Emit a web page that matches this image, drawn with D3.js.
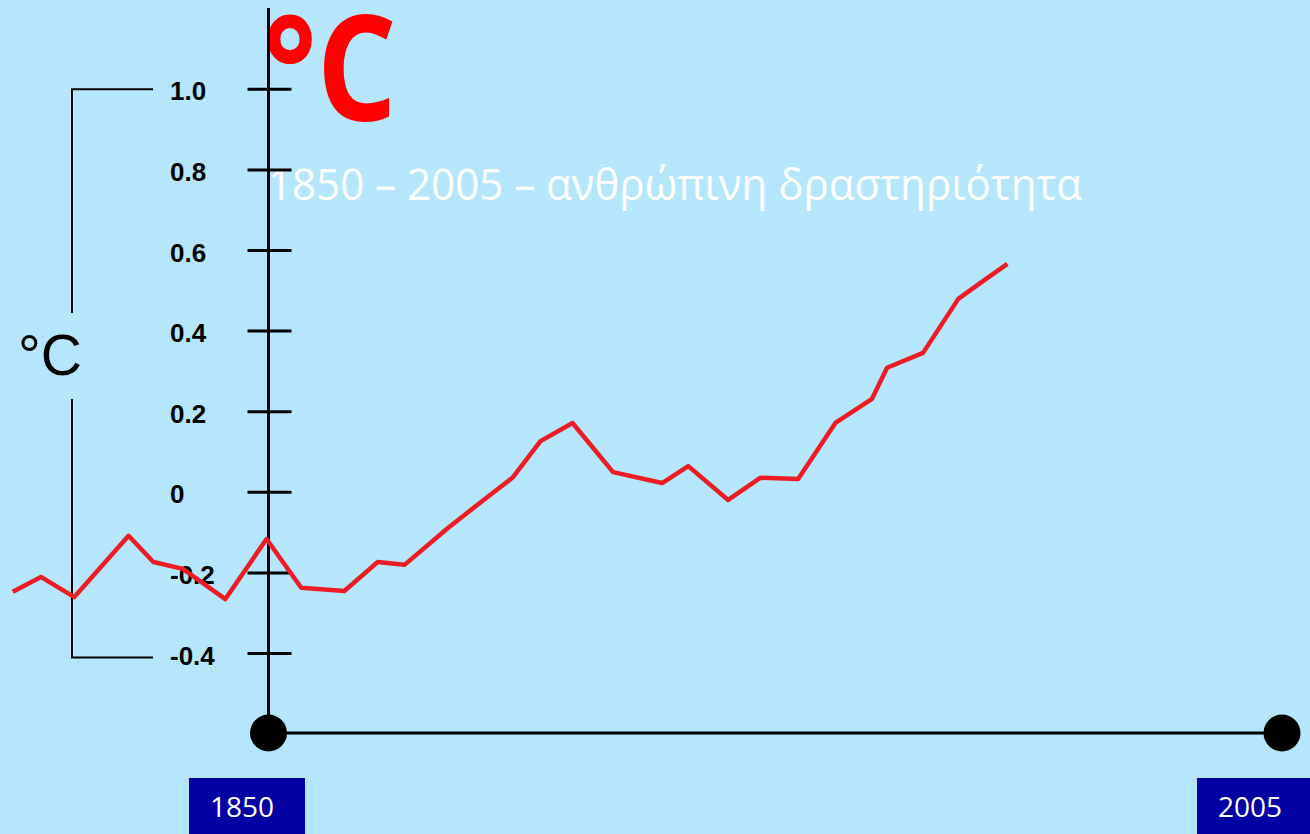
<!DOCTYPE html>
<html>
<head>
<meta charset="utf-8">
<script src="https://cdn.jsdelivr.net/npm/d3@7"></script>
<style>
  html, body { margin: 0; padding: 0; background: #B6E6FC; overflow: hidden; }
  svg { display: block; }
</style>
</head>
<body>
<svg id="chart" width="1310" height="834"></svg>
<script>
// ---- data ----
const years = [1810.9, 1815.2, 1820.3, 1828.6, 1832.4, 1836.9, 1843.4, 1849.7, 1855.0, 1861.6,
               1866.7, 1870.8, 1877.4, 1882.9, 1887.3, 1891.6, 1896.5, 1902.7, 1910.2, 1914.2,
               1920.3, 1925.2, 1931.0, 1936.7, 1942.3, 1944.6, 1950.1, 1955.5, 1959.1, 1963.0];
const anomalies = [-0.247, -0.210, -0.260, -0.108, -0.173, -0.190, -0.265, -0.116, -0.237, -0.245,
                   -0.173, -0.180, -0.089, -0.019, 0.036, 0.127, 0.172, 0.050, 0.023, 0.065,
                   -0.019, 0.036, 0.033, 0.172, 0.232, 0.309, 0.346, 0.480, 0.522, 0.567];
const yTicks = [1.0, 0.8, 0.6, 0.4, 0.2, 0, -0.2, -0.4];
const yTickLabels = ["1.0", "0.8", "0.6", "0.4", "0.2", "0", "-0.2", "-0.4"];
const xEndYears = [1850, 2005];
const xEndLabels = ["1850", "2005"];
const titleText = "°C";
const subtitleText = "1850 – 2005 – ανθρώπινη δραστηριότητα";
const axisUnit = "°C";

// ---- scales ----
const svg = d3.select("#chart");
const x = d3.scaleLinear().domain([1850, 2005]).range([268.5, 1282]);
const y = d3.scaleLinear().domain([0, 1]).range([492.3, 89.3]);

svg.append("rect").attr("width", 1310).attr("height", 834).attr("fill", "#B6E6FC");

// ---- bracket with unit label ----
const bx = 72, bEnd = 153;
const bracket = svg.append("g").attr("stroke", "#000").attr("stroke-width", 2).attr("fill", "none");
bracket.append("path")
  .attr("d", `M${bEnd},${y(1.0)} H${bx} V313`);
bracket.append("path")
  .attr("d", `M${bEnd},${y(-0.4) + 4} H${bx} V399`);
svg.append("text")
  .attr("x", 18).attr("y", 375)
  .attr("font-family", "Liberation Sans, Arial, sans-serif")
  .attr("font-size", 57)
  .attr("fill", "#000")
  .text(axisUnit);

// ---- tick labels ----
svg.append("g").selectAll("text")
  .data(yTicks)
  .join("text")
  .attr("x", 170)
  .attr("y", d => y(d) + 11)
  .attr("font-family", "Liberation Sans, Arial, sans-serif")
  .attr("font-weight", "bold")
  .attr("font-size", 26)
  .attr("fill", "#000")
  .text((d, i) => yTickLabels[i]);

// ---- title and subtitle ----
svg.append("text")
  .attr("x", 263).attr("y", 121)
  .attr("font-family", "Open Sans, sans-serif")
  .attr("font-weight", "bold")
  .attr("font-size", 148)
  .attr("fill", "#FF0000")
  .attr("textLength", 134)
  .attr("lengthAdjust", "spacingAndGlyphs")
  .text(titleText);

svg.append("text")
  .attr("x", 268).attr("y", 200)
  .attr("font-family", "Open Sans, sans-serif")
  .attr("font-size", 44)
  .attr("fill", "#FFFFFF")
  .attr("textLength", 814)
  .attr("lengthAdjust", "spacingAndGlyphs")
  .text(subtitleText);

// ---- axes ----
const axes = svg.append("g").attr("stroke", "#000").attr("stroke-width", 3);
axes.append("line")
  .attr("x1", x(1850)).attr("x2", x(1850))
  .attr("y1", 8).attr("y2", 733);
axes.append("line")
  .attr("x1", x(1850)).attr("x2", x(2005))
  .attr("y1", 733).attr("y2", 733);
axes.selectAll("line.tick")
  .data(yTicks)
  .join("line")
  .attr("class", "tick")
  .attr("x1", x(1850) - 21).attr("x2", x(1850) + 23)
  .attr("y1", d => y(d)).attr("y2", d => y(d));

svg.append("g").selectAll("circle")
  .data(xEndYears)
  .join("circle")
  .attr("cx", d => x(d))
  .attr("cy", 733)
  .attr("r", 18.5)
  .attr("fill", "#000");

// ---- end labels ----
const endG = svg.append("g").selectAll("g")
  .data(xEndYears)
  .join("g")
  .attr("transform", d => `translate(${x(d) - 82 + (d === 1850 ? 2.5 : -3)},778)`);
endG.append("rect")
  .attr("width", 116).attr("height", 60)
  .attr("fill", "#0000A3");
endG.append("text")
  .attr("x", 21).attr("y", 39)
  .attr("font-family", "Open Sans, sans-serif")
  .attr("font-size", 28)
  .attr("fill", "#FFFFFF")
  .text((d, i) => xEndLabels[i]);

// ---- temperature line ----
const pts = years.map((yr, i) => [yr, anomalies[i]]);
svg.append("path")
  .datum(pts)
  .attr("fill", "none")
  .attr("stroke", "#ED1C24")
  .attr("stroke-width", 4.5)
  .attr("stroke-linejoin", "round")
  .attr("d", d3.line().x(d => x(d[0])).y(d => y(d[1])));
</script>
</body>
</html>
